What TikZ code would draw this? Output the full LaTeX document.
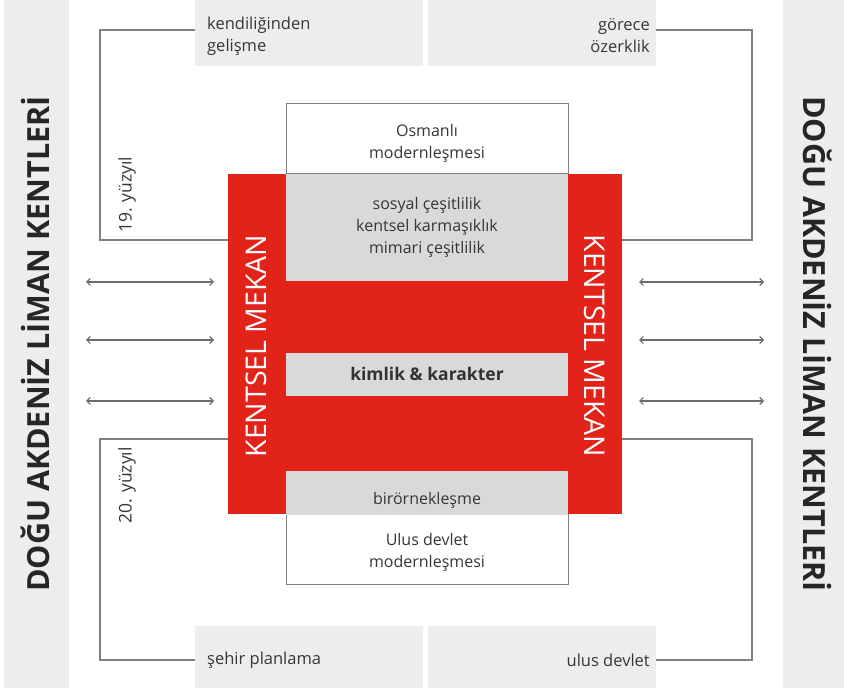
\documentclass[tikz,border=0pt]{standalone}
\usepackage{fontspec}
\setmainfont{Open Sans}
\usetikzlibrary{arrows.meta}
\definecolor{kred}{HTML}{E2231A}
\definecolor{kgray}{HTML}{D9D9D9}
\definecolor{klight}{HTML}{EDEDED}
\definecolor{kline}{HTML}{808080}
\definecolor{ktext}{HTML}{363636}
\tikzset{
  box/.style={rectangle, inner sep=0pt, outer sep=0pt, minimum width=#1},
  sidebar/.style={box=65pt, minimum height=688pt, fill=klight},
  labelbox/.style={box=228pt, minimum height=66pt, fill=klight},
  whitebox/.style={box=282pt, fill=white, draw=kline, line width=1pt},
  graybox/.style={box=282pt, fill=kgray},
  bracket/.style={draw=kline, line width=1.1pt},
  biarrow/.style={draw=kline!85!black, line width=1.1pt, {Straight Barb[length=3.5pt,width=7pt]}-{Straight Barb[length=3.5pt,width=7pt]}},
  small/.style={font=\fontsize{16}{22}\selectfont, text=ktext, inner sep=0pt},
  corner/.style={font=\fontsize{16.5}{22}\selectfont, text=ktext, inner sep=0pt},
  title/.style={font=\fontsize{30.5}{32}\selectfont\bfseries, text=black!85, inner sep=0pt},
  redtitle/.style={font=\fontsize{28.5}{30}\selectfont, text=white, inner sep=0pt},
}
\begin{document}
\begin{tikzpicture}[x=1pt,y=-1pt]
\useasboundingbox (0,0) rectangle (844,692);
% side bars
\node[sidebar] (lbar) at (36.5,344) {};
\node[sidebar] (rbar) at (815.5,344) {};
\node[title, rotate=90] (ltitle) at ([xshift=-1pt]lbar.center) {DOĞU AKDENİZ LİMAN KENTLERİ};
\node[title, rotate=-90] (rtitle) at ([xshift=2pt]rbar.center) {DOĞU AKDENİZ LİMAN KENTLERİ};
% label boxes
\node[labelbox] (tl) at (309,33) {};
\node[labelbox] (tr) at (541.5,33) {};
\node[labelbox, minimum height=62pt] (bl) at (309,657) {};
\node[labelbox, minimum height=62pt] (br) at (541.5,657) {};
\node[corner, anchor=west, align=left] (tltext) at (207,36) {kendiliğinden\\gelişme};
\node[corner, anchor=east, align=right] (trtext) at (650,36) {görece\\özerklik};
\node[corner, anchor=west] (bltext) at (207,660) {şehir planlama};
\node[corner, anchor=east] (brtext) at (650,660) {ulus devlet};
% central composition
\node[whitebox, minimum height=70pt] (wtop) at (427,139) {};
\node[whitebox, minimum height=69pt] (wbot) at (427,549.5) {};
\node[box=394pt, minimum height=340pt, fill=kred] (red) at (425,344) {};
\node[graybox, minimum height=107pt] (g1) at (427,227.5) {};
\node[graybox, minimum height=43pt] (g2) at (427,374.5) {};
\node[graybox, minimum height=44pt] (g3) at (427,493) {};
\node[small, align=center] (wtoptext) at (427,143) {Osmanlı\\modernleşmesi};
\node[small, align=center] (g1text) at (g1.center) {sosyal çeşitlilik\\kentsel karmaşıklık\\mimari çeşitlilik};
\node[small, font=\fontsize{17.5}{20}\selectfont\bfseries, text=black!80] (g2text) at ([yshift=1pt]g2.center) {kimlik \& karakter};
\node[small] (g3text) at ([yshift=-7pt]g3.center) {birörnekleşme};
\node[small, align=center] (wbottext) at (427,552) {Ulus devlet\\modernleşmesi};
\node[redtitle, rotate=90] (lred) at (256,346) {KENTSEL MEKAN};
\node[redtitle, rotate=-90] (rred) at (595,346) {KENTSEL MEKAN};
% brackets
\coordinate (c19l) at (100,240);
\coordinate (c19r) at (752,240);
\coordinate (c20l) at (100,439);
\coordinate (c20r) at (752,439);
\draw[bracket] ([yshift=3pt]tl.west) -| (c19l) -- (red.west |- c19l);
\draw[bracket] ([yshift=3pt]tr.east) -| (c19r) -- (red.east |- c19r);
\draw[bracket] (red.west |- c20l) -- (c20l) |- ([yshift=-3pt]bl.west);
\draw[bracket] (red.east |- c20r) -- (c20r) |- ([yshift=-3pt]br.east);
\node[corner, font=\fontsize{17.5}{20}\selectfont, rotate=90, anchor=west] (y19) at (127,233) {19. yüzyıl};
\node[corner, font=\fontsize{17.5}{20}\selectfont, rotate=90, anchor=east] (y20) at (127,447) {20. yüzyıl};
% arrows
\foreach \r/\yy in {1/282, 2/340, 3/401} {
  \coordinate (row\r) at (0,\yy);
  \draw[biarrow, shorten <=17pt, shorten >=14pt] (lbar.east |- row\r) -- (red.west |- row\r);
  \draw[biarrow, shorten <=17pt, shorten >=19pt] (red.east |- row\r) -- (rbar.west |- row\r);
}
\end{tikzpicture}
\end{document}
